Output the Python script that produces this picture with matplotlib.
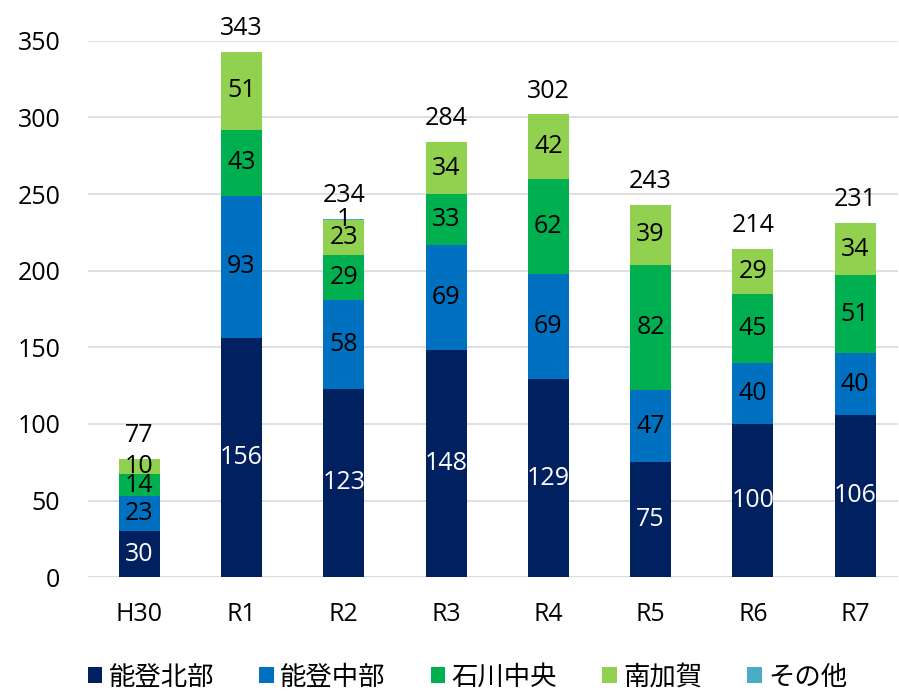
import matplotlib.pyplot as plt
import numpy as np

plt.rcParams['font.family'] = ['Open Sans', 'Noto Sans CJK JP']

categories = ['H30', 'R1', 'R2', 'R3', 'R4', 'R5', 'R6', 'R7']
noto_hokubu = [30, 156, 123, 148, 129, 75, 100, 106]
noto_chubu = [23, 93, 58, 69, 69, 47, 40, 40]
ishikawa_chuo = [14, 43, 29, 33, 62, 82, 45, 51]
minami_kaga = [10, 51, 23, 34, 42, 39, 29, 34]
sonota = [0, 0, 1, 0, 0, 0, 0, 0]

series = [
    ('能登北部', noto_hokubu, '#002060', 'white'),
    ('能登中部', noto_chubu, '#0070C0', 'black'),
    ('石川中央', ishikawa_chuo, '#00B050', 'black'),
    ('南加賀', minami_kaga, '#92D050', 'black'),
    ('その他', sonota, '#4BACC6', 'black'),
]

fig = plt.figure(figsize=(8.99, 6.92), dpi=100)
ax = fig.add_axes([0.098, 0.166, 0.901, 0.775])

x = np.arange(len(categories))
width = 0.4
fs = 18
bottom = np.zeros(len(categories))
for name, vals, color, tcolor in series:
    vals = np.array(vals)
    ax.bar(x, vals, width, bottom=bottom, color=color, label=name, zorder=2)
    for i, v in enumerate(vals):
        if v == 0:
            continue
        ax.text(x[i], bottom[i] + v / 2, str(v), ha='center', va='center',
                color=tcolor, fontsize=fs, zorder=3)
    bottom += vals

for i, t in enumerate(bottom):
    ax.text(x[i], t + 7, str(int(t)), ha='center', va='bottom', fontsize=fs)

ax.set_ylim(0, 350)
ax.set_yticks(range(0, 351, 50))
ax.set_xlim(-0.5, 7.42)
ax.set_xticks(x)
ax.set_xticklabels(categories)
ax.tick_params(axis='both', length=0, labelsize=fs)
ax.tick_params(axis='x', pad=18)
ax.tick_params(axis='y', pad=20)
ax.grid(axis='y', color='#d9d9d9', linewidth=1.2, zorder=0)
for s in ax.spines.values():
    s.set_visible(False)
ax.axhline(0, color='#d9d9d9', linewidth=1.2, zorder=1)

fig.legend(loc='center', bbox_to_anchor=(0.52, 0.02), ncol=5, frameon=False,
           fontsize=19, handlelength=0.55, handleheight=0.55, handletextpad=0.25,
           columnspacing=1.7)

plt.savefig('out.png')
